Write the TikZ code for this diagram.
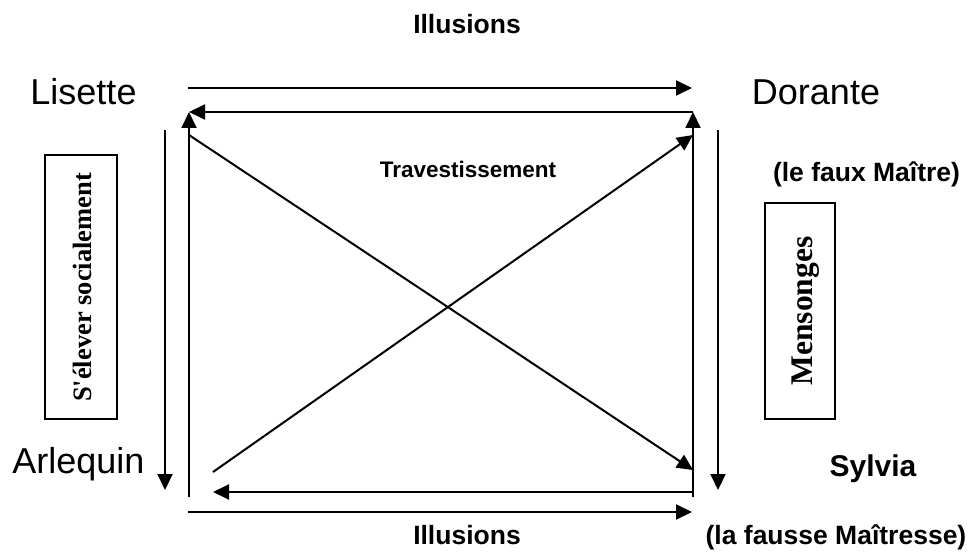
\documentclass[tikz,border=0pt]{standalone}
\usepackage{fontspec}
\setmainfont{Liberation Serif}
\setsansfont{Liberation Sans}
\usetikzlibrary{arrows.meta}
\begin{document}
\begin{tikzpicture}[x=1pt,y=-1pt,
  conn/.style={line width=2pt,-{Triangle[length=16pt,width=15pt]}},
  pname/.style={font=\sffamily\fontsize{36}{40}\selectfont,anchor=base,inner sep=0pt},
  lbl/.style={font=\sffamily\bfseries\fontsize{26.5}{30}\selectfont,anchor=base,inner sep=0pt},
  vbox/.style={draw,line width=1.5pt,inner sep=0pt}]
\useasboundingbox (0,0) rectangle (976,556);
% labels
\node[lbl] (ill1) at (467,34) {Illusions};
\node[pname] (lis) at (83.5,105) {Lisette};
\node[pname] (dor) at (816,105) {Dorante};
\node[pname] (arl) at (78.5,473) {Arlequin};
\node[lbl,font=\sffamily\bfseries\fontsize{30}{34}\selectfont] (syl) at (873,476) {Sylvia};
\node[lbl] (faux) at (866.5,182) {(le faux Maître)};
\node[lbl,font=\sffamily\bfseries\fontsize{22.5}{26}\selectfont] (trav) at (468,178) {Travestissement};
\node[lbl] (ill2) at (467,544) {Illusions};
\node[lbl] (fausse) at (836,544) {(la fausse Maîtresse)};
% boxes
\node[vbox,minimum width=72pt,minimum height=264pt] (bl) at (81,287) {};
\node[rotate=90,font=\rmfamily\bfseries\fontsize{26.5}{30}\selectfont] (blt) at (82,287.5) {S{\addfontfeature{Ligatures=TeXOff}'}élever socialement};
\node[vbox,minimum width=70pt,minimum height=216pt] (br) at (800,311) {};
\node[rotate=90,font=\rmfamily\bfseries\fontsize{31.5}{34}\selectfont] (brt) at (806,311) {Mensonges};
% coordinates
\coordinate (ta) at (188,88);
\coordinate (tb) at (692,88);
\coordinate (sa) at (693,112);
\coordinate (sb) at (189,112);
\coordinate (lvb) at (189,497);
\coordinate (lvt) at (189,112);
\coordinate (rvb) at (693,497);
\coordinate (rvt) at (693,112);
\coordinate (ola) at (165,130);
\coordinate (olb) at (165,490);
\coordinate (ora) at (718,130);
\coordinate (orb) at (718,490);
\coordinate (d1a) at (189,135);
\coordinate (d1b) at (693,470);
\coordinate (d2a) at (213,472);
\coordinate (d2b) at (693,135);
\coordinate (bia) at (693,492);
\coordinate (bib) at (213,492);
\coordinate (boa) at (188,512);
\coordinate (bob) at (692,512);
% arrows
\draw[conn] (ta) -- (tb);
\draw[conn] (sa) -- (sb);
\draw[conn] (lvb) -- (lvt);
\draw[conn] (rvb) -- (rvt);
\draw[conn] (ola) -- (olb);
\draw[conn] (ora) -- (orb);
\draw[conn] (d1a) -- (d1b);
\draw[conn] (d2a) -- (d2b);
\draw[conn] (bia) -- (bib);
\draw[conn] (boa) -- (bob);
\end{tikzpicture}
\end{document}
